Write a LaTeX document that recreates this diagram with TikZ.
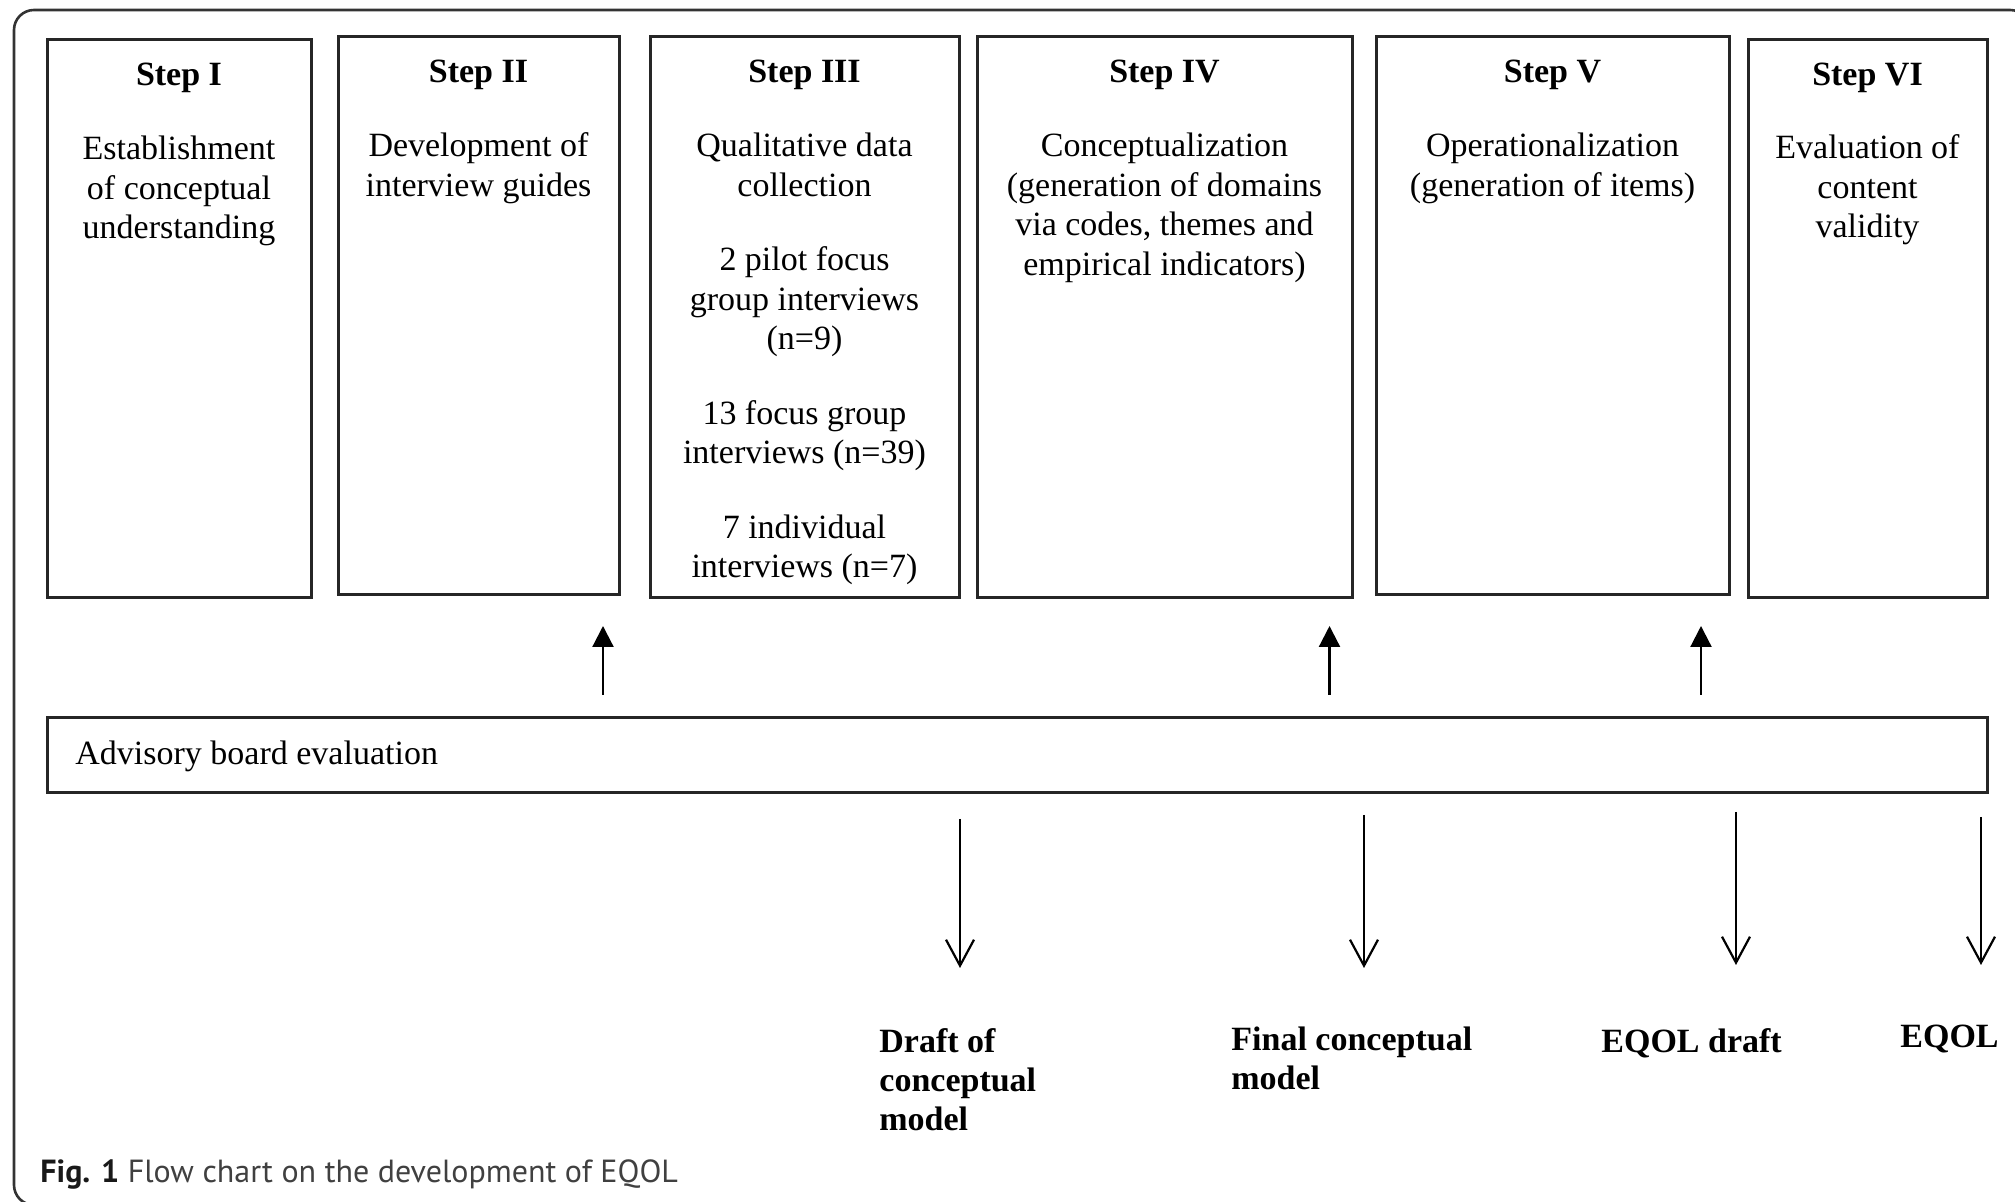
\documentclass[tikz,border=0pt]{standalone}
\usepackage{fontspec}
\setmainfont{Liberation Serif}
\newfontfamily\capfont{PT Sans}
\usetikzlibrary{arrows.meta}
\newcommand{\stepbody}[2]{\parbox[t]{#1}{\centering\fontsize{17}{19.75}\selectfont #2}}
\newcommand{\outbody}[1]{\parbox[t]{150pt}{\raggedright\fontsize{17}{19.5}\selectfont\bfseries #1}}
\begin{document}
\begin{tikzpicture}[x=0.5pt,y=-0.5pt,
  frame/.style={draw=black!80, line width=1.3pt, rounded corners=10pt},
  stepbox/.style={draw=black!85, line width=1.5pt, inner sep=0pt, outer sep=0pt},
  titletext/.style={font=\fontsize{17}{19.75}\selectfont\bfseries, anchor=base, inner sep=0pt},
  bodytext/.style={anchor=base, inner sep=0pt},
  uparrow/.style={line width=1.1pt, -{Triangle[length=10.5pt,width=10.5pt]}},
  downarrow/.style={line width=1.1pt, -{Straight Barb[length=13pt,width=14pt]}},
  outlabel/.style={anchor=base west, inner sep=0pt},
]
\useasboundingbox (0,0) rectangle (2015,1202);
\begin{scope}
\clip (0,0) rectangle (2015,1202);
\draw[frame] (14,10) rectangle (2030,1205);
\end{scope}

% step boxes
\node[stepbox, minimum width=132pt, minimum height=279pt] (s1) at (179,319) {};
\node[stepbox, minimum width=140.5pt, minimum height=279pt] (s2) at (478.5,316) {};
\node[stepbox, minimum width=154.5pt, minimum height=280.5pt] (s3) at (804.5,317.5) {};
\node[stepbox, minimum width=187.5pt, minimum height=280.5pt] (s4) at (1164.5,317.5) {};
\node[stepbox, minimum width=176.5pt, minimum height=279pt] (s5) at (1552.5,316) {};
\node[stepbox, minimum width=119.5pt, minimum height=279pt] (s6) at (1867.5,319) {};

% titles
\node[titletext] (t1) at (179,86) {Step I};
\node[titletext] (t2) at (478.5,83) {Step II};
\node[titletext] (t3) at (804.5,83) {Step III};
\node[titletext] (t4) at (1164.5,83) {Step IV};
\node[titletext] (t5) at (1552.5,83) {Step V};
\node[titletext] (t6) at (1867.5,86) {Step VI};

% bodies
\node[bodytext] (b1) at (179,160) {\stepbody{130pt}{Establishment\\of conceptual\\understanding}};
\node[bodytext] (b2) at (478.5,157) {\stepbody{138pt}{Development of\\interview guides}};
\node[bodytext] (b3) at (804.5,157) {\stepbody{152pt}{Qualitative data\\collection\\[17.5pt]2 pilot focus\\group interviews\\(n=9)\\[17.5pt]13 focus group\\interviews (n=39)\\[17.5pt]7 individual\\interviews (n=7)}};
\node[bodytext] (b4) at (1164.5,157) {\stepbody{185pt}{Conceptualization\\(generation of domains\\via codes, themes and\\empirical indicators)}};
\node[bodytext] (b5) at (1552.5,157) {\stepbody{174pt}{Operationalization\\(generation of items)}};
\node[bodytext] (b6) at (1867.5,159) {\stepbody{117pt}{Evaluation of\\content\\validity}};

% advisory board
\node[stepbox, minimum width=970pt, minimum height=37.5pt] (adv) at (1017,755.5) {};
\node[outlabel, font=\fontsize{17}{19.75}\selectfont] (advt) at (75,765) {Advisory board evaluation};

% up arrows
\coordinate (u1a) at (603,695);   \coordinate (u1b) at (603,626);
\coordinate (u2a) at (1329.5,695); \coordinate (u2b) at (1329.5,626);
\coordinate (u3a) at (1701,695);  \coordinate (u3b) at (1701,626);
\draw[uparrow] (u1a) -- (u1b);
\draw[uparrow] (u2a) -- (u2b);
\draw[uparrow] (u3a) -- (u3b);

% down arrows
\coordinate (d1a) at (960,819);  \coordinate (d1b) at (960,968);
\coordinate (d2a) at (1364,815); \coordinate (d2b) at (1364,968);
\coordinate (d3a) at (1736,812); \coordinate (d3b) at (1736,965);
\coordinate (d4a) at (1981,817); \coordinate (d4b) at (1981,965);
\draw[downarrow] (d1a) -- (d1b);
\draw[downarrow] (d2a) -- (d2b);
\draw[downarrow] (d3a) -- (d3b);
\draw[downarrow] (d4a) -- (d4b);

% outputs
\node[outlabel] (o1) at (879,1053) {\outbody{Draft of\\conceptual\\model}};
\node[outlabel] (o2) at (1231,1051) {\outbody{Final conceptual\\model}};
\node[outlabel] (o3) at (1601,1053) {\outbody{EQOL draft}};
\node[outlabel] (o4) at (1900,1048) {\outbody{EQOL}};

% caption
\node[outlabel, font=\capfont\fontsize{16}{19}\selectfont, text=black!75] (cap) at (40,1182) {\textcolor{black!90}{\textbf{Fig. 1}} Flow chart on the development of EQOL};
\end{tikzpicture}
\end{document}
